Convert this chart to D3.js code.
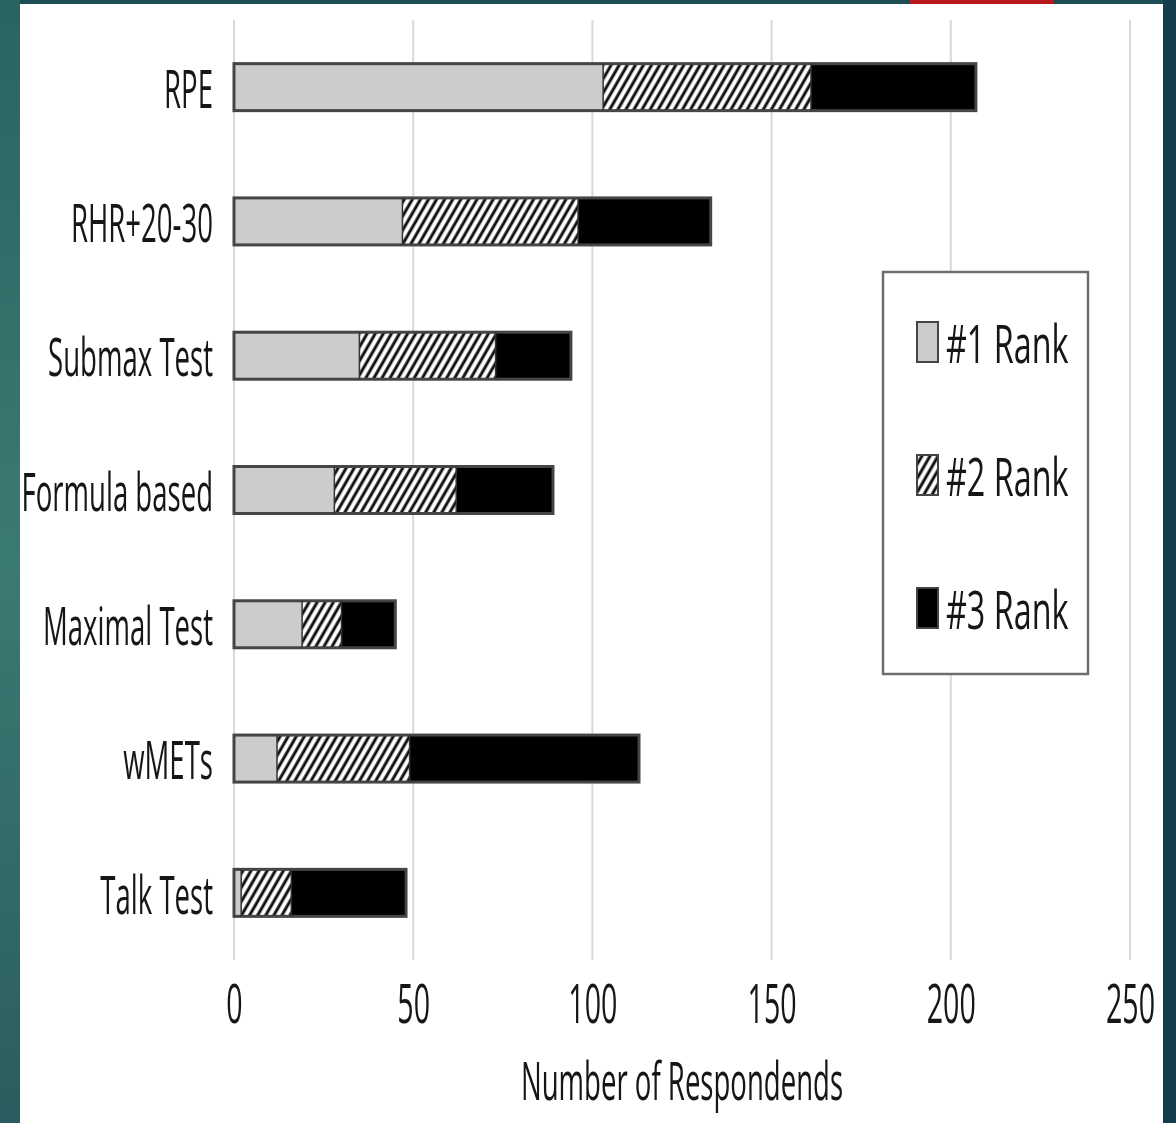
<!DOCTYPE html>
<html>
<head>
<meta charset="utf-8">
<script src="https://cdn.jsdelivr.net/npm/d3@7"></script>
<style>
  html, body { margin: 0; padding: 0; background: #fff; }
  svg { display: block; }
  text { font-family: "Open Sans", sans-serif; fill: #151515; }
</style>
</head>
<body>
<script>
// Preferred methods for prescribing exercise intensity, ranked by respondents
const categories = ["RPE", "RHR+20-30", "Submax Test", "Formula based", "Maximal Test", "wMETs", "Talk Test"];
const rank1 = [103, 47, 35, 28, 19, 12, 2];
const rank2 = [58, 49, 38, 34, 11, 37, 14];
const rank3 = [46, 37, 21, 27, 15, 64, 32];
const seriesNames = ["#1 Rank", "#2 Rank", "#3 Rank"];
const xTicks = [0, 50, 100, 150, 200, 250];
const xTitle = "Number of Respondends";

const W = 1176, H = 1123;
const labelScaleX = 0.52;
const legendScaleX = 0.61;
const fontSize = 53;

const svg = d3.select("body").append("svg").attr("width", W).attr("height", H);
const defs = svg.append("defs");

// slide frame background
const g1 = defs.append("linearGradient").attr("id", "leftBand").attr("x1", 0).attr("y1", 0).attr("x2", 0).attr("y2", 1);
g1.append("stop").attr("offset", "0%").attr("stop-color", "#2a6461");
g1.append("stop").attr("offset", "50%").attr("stop-color", "#3b7a72");
g1.append("stop").attr("offset", "100%").attr("stop-color", "#2b5c5f");
svg.append("rect").attr("width", W).attr("height", H).attr("fill", "url(#leftBand)");
svg.append("rect").attr("x", 20).attr("y", 0).attr("width", W - 20).attr("height", 5).attr("fill", "#1d4d55");
svg.append("rect").attr("x", 1163).attr("y", 0).attr("width", 13).attr("height", H).attr("fill", "#143d4c");
svg.append("rect").attr("x", 910).attr("y", 0).attr("width", 144).attr("height", 4).attr("fill", "#b8191b");
svg.append("rect").attr("x", 20).attr("y", 4).attr("width", 1143).attr("height", H - 4).attr("fill", "#ffffff");

// diagonal hatch for the #2 segment
const pat = defs.append("pattern").attr("id", "hatch").attr("patternUnits", "userSpaceOnUse")
  .attr("width", 7).attr("height", 7).attr("patternTransform", "rotate(30)");
pat.append("rect").attr("width", 7).attr("height", 7).attr("fill", "#ffffff");
pat.append("line").attr("x1", 1.8).attr("y1", 0).attr("x2", 1.8).attr("y2", 7)
  .attr("stroke", "#111").attr("stroke-width", 3);

const blur = defs.append("filter").attr("id", "soft");
blur.append("feGaussianBlur").attr("stdDeviation", 0.6);

const x = d3.scaleLinear().domain([0, 250]).range([234, 1130]);
const y = d3.scaleBand().domain(categories).range([20, 960]).paddingInner(0.65).paddingOuter(0.325);

const root = svg.append("g").attr("filter", "url(#soft)");

// vertical gridlines
root.append("g").selectAll("line").data(xTicks).join("line")
  .attr("x1", d => x(d)).attr("x2", d => x(d))
  .attr("y1", y.range()[0]).attr("y2", y.range()[1])
  .attr("stroke", "#d9d9d9").attr("stroke-width", 2);

// stacked bars
const stackData = categories.map((c, i) => ({ cat: c, r1: rank1[i], r2: rank2[i], r3: rank3[i] }));
const stack = d3.stack().keys(["r1", "r2", "r3"])(stackData);
const fills = ["#cccccc", "url(#hatch)", "#000000"];

const barG = root.append("g");
stack.forEach((layer, li) => {
  barG.append("g").selectAll("rect").data(layer).join("rect")
    .attr("x", d => x(d[0]))
    .attr("y", d => y(d.data.cat))
    .attr("width", d => x(d[1]) - x(d[0]))
    .attr("height", y.bandwidth())
    .attr("fill", fills[li]);
});
// bar outlines
barG.append("g").selectAll("rect").data(stackData).join("rect")
  .attr("x", d => x(0))
  .attr("y", d => y(d.cat))
  .attr("width", d => x(d.r1 + d.r2 + d.r3) - x(0))
  .attr("height", y.bandwidth())
  .attr("fill", "none").attr("stroke", "#444").attr("stroke-width", 3);
// dividers between segments
stack.slice(0, 2).forEach(layer => {
  barG.append("g").selectAll("line").data(layer).join("line")
    .attr("x1", d => x(d[1])).attr("x2", d => x(d[1]))
    .attr("y1", d => y(d.data.cat)).attr("y2", d => y(d.data.cat) + y.bandwidth())
    .attr("stroke", "#333").attr("stroke-width", 1.5);
});

// category labels
root.append("g").selectAll("text").data(categories).join("text")
  .attr("transform", d => `translate(213,${y(d) + y.bandwidth() / 2}) scale(${labelScaleX},1)`)
  .attr("text-anchor", "end").attr("dominant-baseline", "central")
  .style("font-size", fontSize + "px")
  .text(d => d);

// x axis labels
const xAxis = d3.axisBottom(x).tickValues(xTicks).tickSize(0).tickPadding(0);
const axG = root.append("g").attr("transform", "translate(0,1002)").call(xAxis);
axG.select(".domain").remove();
axG.selectAll("text")
  .attr("y", 0).attr("dy", null)
  .attr("dominant-baseline", "central")
  .attr("transform", `scale(${labelScaleX},1)`)
  .attr("fill", "#151515")
  .style("font-size", (fontSize + 2) + "px")
  .style("font-family", "'Open Sans', sans-serif");

root.append("text")
  .attr("transform", `translate(682,1100) scale(${labelScaleX},1)`)
  .attr("text-anchor", "middle")
  .style("font-size", fontSize + "px")
  .text(xTitle);

// legend
const lg = root.append("g");
lg.append("rect").attr("x", 883).attr("y", 272).attr("width", 205).attr("height", 402)
  .attr("fill", "#fff").attr("stroke", "#6e6e6e").attr("stroke-width", 2.5);
const legY = [342, 475, 608];
const legItems = lg.selectAll("g.item").data(seriesNames).join("g").attr("class", "item")
  .attr("transform", (d, i) => `translate(917,${legY[i]})`);
legItems.append("rect").attr("x", 0).attr("y", -20).attr("width", 21).attr("height", 40)
  .attr("fill", (d, i) => fills[i]).attr("stroke", "#444").attr("stroke-width", 2);
legItems.append("text")
  .attr("transform", `translate(29,0) scale(${legendScaleX},1)`)
  .attr("dominant-baseline", "central")
  .style("font-size", fontSize + "px")
  .text(d => d);
</script>
</body>
</html>
